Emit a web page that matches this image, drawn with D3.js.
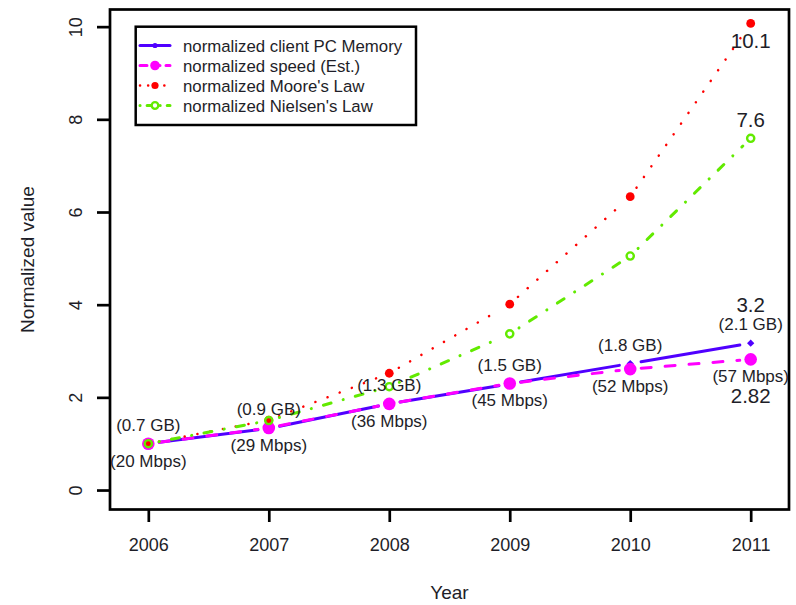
<!DOCTYPE html>
<html><head><meta charset="utf-8">
<script src="https://cdn.jsdelivr.net/npm/d3@7"></script>
<style>
body{margin:0;background:#fff;}
text{font-family:"Liberation Sans",Arial,sans-serif;fill:#1e1e28;}
</style>
</head><body><svg id="chart" width="796" height="605"></svg>
<script>
// ---- data ----
const years = [2006, 2007, 2008, 2009, 2010, 2011];
const memory = [1, 1.33, 1.86, 2.29, 2.73, 3.17];
const speed = [1, 1.34, 1.86, 2.30, 2.61, 2.82];
const moore = [1, 1.51, 2.52, 4.01, 6.33, 10.07];
const nielsen = [1, 1.5, 2.23, 3.37, 5.05, 7.59];
const memoryLabels = ["(0.7 GB)", "(0.9 GB)", "(1.3 GB)", "(1.5 GB)", "(1.8 GB)", "(2.1 GB)"];
const speedLabels = ["(20 Mbps)", "(29 Mbps)", "(36 Mbps)", "(45 Mbps)", "(52 Mbps)", "(57 Mbps)"];
const mooreEndLabel = "10.1";
const nielsenEndLabel = "7.6";
const memoryEndLabel = "3.2";
const speedEndLabel = "2.82";
const yTicks = [0, 2, 4, 6, 8, 10];
const legendLabels = ["normalized client PC Memory", "normalized speed (Est.)", "normalized Moore's Law", "normalized Nielsen's Law"];
const xTitle = "Year";
const yTitle = "Normalized value";

// ---- layout ----
const svg = d3.select("#chart");
const L = 110, R = 789, T = 9.5, B = 509.5;
const x = d3.scaleLinear().domain([2005.682, 2011.318]).range([L, R]);
const y = d3.scaleLinear().domain([-0.42, 10.37]).range([B, T]);

const C_MEM = "#5000ff", C_SPD = "#ff00ff", C_MOO = "#ff0000", C_NIE = "#62ea00";
const GAP = 11;

// axes
const xAxis = svg.append("g").attr("transform", `translate(0,${B})`)
  .call(d3.axisBottom(x).tickValues(years).tickFormat(d3.format("d")).tickSize(12.5).tickSizeOuter(0));
xAxis.select(".domain").remove();
xAxis.selectAll("line").attr("stroke", "#000").attr("stroke-width", 2.7);
xAxis.selectAll("text").attr("y", 41.5).attr("dy", 0).attr("font-size", 18)
  .attr("font-family", "'Liberation Sans',Arial,sans-serif").attr("fill", "#1e1e28");

const yAxis = svg.append("g").attr("transform", `translate(${L},0)`)
  .call(d3.axisLeft(y).tickValues(yTicks).tickSize(13).tickSizeOuter(0));
yAxis.select(".domain").remove();
yAxis.selectAll("line").attr("stroke", "#000").attr("stroke-width", 2.7);
yAxis.selectAll("text").attr("x", 0).attr("y", -28).attr("dy", 0)
  .attr("transform", "rotate(-90)").attr("text-anchor", "middle").attr("font-size", 18)
  .attr("font-family", "'Liberation Sans',Arial,sans-serif").attr("fill", "#1e1e28");

// box
svg.append("rect").attr("x", L).attr("y", T).attr("width", R - L).attr("height", B - T)
  .attr("fill", "none").attr("stroke", "#000").attr("stroke-width", 2.7);

// titles
svg.append("text").attr("x", (L + R) / 2).attr("y", 599).attr("text-anchor", "middle")
  .attr("font-size", 19).text(xTitle);
svg.append("text").attr("transform", `translate(33.5,${(T + B) / 2}) rotate(-90)`)
  .attr("text-anchor", "middle").attr("font-size", 19).text(yTitle);

// ---- series drawing (type "b": segments with gaps around points) ----
function drawSegments(vals, color, width, dash) {
  const g = svg.append("g");
  for (let i = 0; i < vals.length - 1; i++) {
    const x1 = x(years[i]), y1 = y(vals[i]), x2 = x(years[i + 1]), y2 = y(vals[i + 1]);
    const d = Math.hypot(x2 - x1, y2 - y1);
    if (d <= 2 * GAP) continue;
    const ux = (x2 - x1) / d, uy = (y2 - y1) / d;
    g.append("line")
      .attr("x1", x1 + ux * GAP).attr("y1", y1 + uy * GAP)
      .attr("x2", x2 - ux * GAP).attr("y2", y2 - uy * GAP)
      .attr("stroke", color).attr("stroke-width", width)
      .attr("stroke-linecap", "round")
      .attr("stroke-dasharray", dash || null);
  }
  return g;
}
const diamond = d3.symbol().type(d3.symbolDiamond2).size(34);

// memory
drawSegments(memory, C_MEM, 3, null);
svg.append("g").selectAll("path").data(memory).join("path")
  .attr("transform", (d, i) => `translate(${x(years[i])},${y(d)})`)
  .attr("d", diamond).attr("fill", C_MEM);

// speed
drawSegments(speed, C_SPD, 3, "10,14");
svg.append("g").selectAll("circle").data(speed).join("circle")
  .attr("cx", (d, i) => x(years[i])).attr("cy", d => y(d)).attr("r", 6.3).attr("fill", C_SPD);

// Moore
drawSegments(moore, C_MOO, 2.5, "0.1,12.9");
svg.append("g").selectAll("circle").data(moore).join("circle")
  .attr("cx", (d, i) => x(years[i])).attr("cy", d => y(d)).attr("r", 4.4).attr("fill", C_MOO);

// Nielsen
drawSegments(nielsen, C_NIE, 3, "0.1,12.5,8,12.5");
svg.append("g").selectAll("circle").data(nielsen).join("circle")
  .attr("cx", (d, i) => x(years[i])).attr("cy", d => y(d)).attr("r", 3.6)
  .attr("fill", "none").attr("stroke", C_NIE).attr("stroke-width", 2.4);

// ---- labels ----
svg.append("g").selectAll("text").data(memoryLabels).join("text")
  .attr("x", (d, i) => x(years[i])).attr("y", (d, i) => y(memory[i]) - 13)
  .attr("text-anchor", "middle").attr("font-size", 17).text(d => d);
svg.append("g").selectAll("text").data(speedLabels).join("text")
  .attr("x", (d, i) => x(years[i])).attr("y", (d, i) => y(speed[i]) + 23)
  .attr("text-anchor", "middle").attr("font-size", 17).text(d => d);

const last = years.length - 1;
svg.append("text").attr("x", x(years[last])).attr("y", y(moore[last]) + 24.5)
  .attr("text-anchor", "middle").attr("font-size", 20.5).text(mooreEndLabel);
svg.append("text").attr("x", x(years[last])).attr("y", y(nielsen[last]) - 11.7)
  .attr("text-anchor", "middle").attr("font-size", 20.5).text(nielsenEndLabel);
svg.append("text").attr("x", x(years[last])).attr("y", y(memory[last]) - 31.4)
  .attr("text-anchor", "middle").attr("font-size", 20.5).text(memoryEndLabel);
svg.append("text").attr("x", x(years[last])).attr("y", y(speed[last]) + 43.7)
  .attr("text-anchor", "middle").attr("font-size", 20.5).text(speedEndLabel);

// ---- legend ----
const lg = svg.append("g");
lg.append("rect").attr("x", 135.7).attr("y", 26.7).attr("width", 280.3).attr("height", 98.3)
  .attr("fill", "#fff").attr("stroke", "#000").attr("stroke-width", 2.5);
const legStyles = [
  {c: C_MEM, w: 3, dash: null},
  {c: C_SPD, w: 3, dash: "7,6"},
  {c: C_MOO, w: 2.5, dash: "0.1,8"},
  {c: C_NIE, w: 3, dash: "0.1,7,6,7"}
];
legendLabels.forEach((lab, i) => {
  const cy = 45.5 + i * 20;
  const s = legStyles[i];
  lg.append("line").attr("x1", 140).attr("x2", 170).attr("y1", cy).attr("y2", cy)
    .attr("stroke", s.c).attr("stroke-width", s.w).attr("stroke-linecap", "round")
    .attr("stroke-dasharray", s.dash);
  if (i === 0) lg.append("circle").attr("cx", 155).attr("cy", cy).attr("r", 2.6).attr("fill", s.c);
  if (i === 1) lg.append("circle").attr("cx", 155).attr("cy", cy).attr("r", 4.8).attr("fill", s.c);
  if (i === 2) lg.append("circle").attr("cx", 155).attr("cy", cy).attr("r", 3.6).attr("fill", s.c);
  if (i === 3) lg.append("circle").attr("cx", 155).attr("cy", cy).attr("r", 3.3)
    .attr("fill", "#fff").attr("stroke", s.c).attr("stroke-width", 2.3);
  lg.append("text").attr("x", 183).attr("y", cy + 6.2).attr("font-size", 16.8).text(lab);
});
</script>
</body></html>
